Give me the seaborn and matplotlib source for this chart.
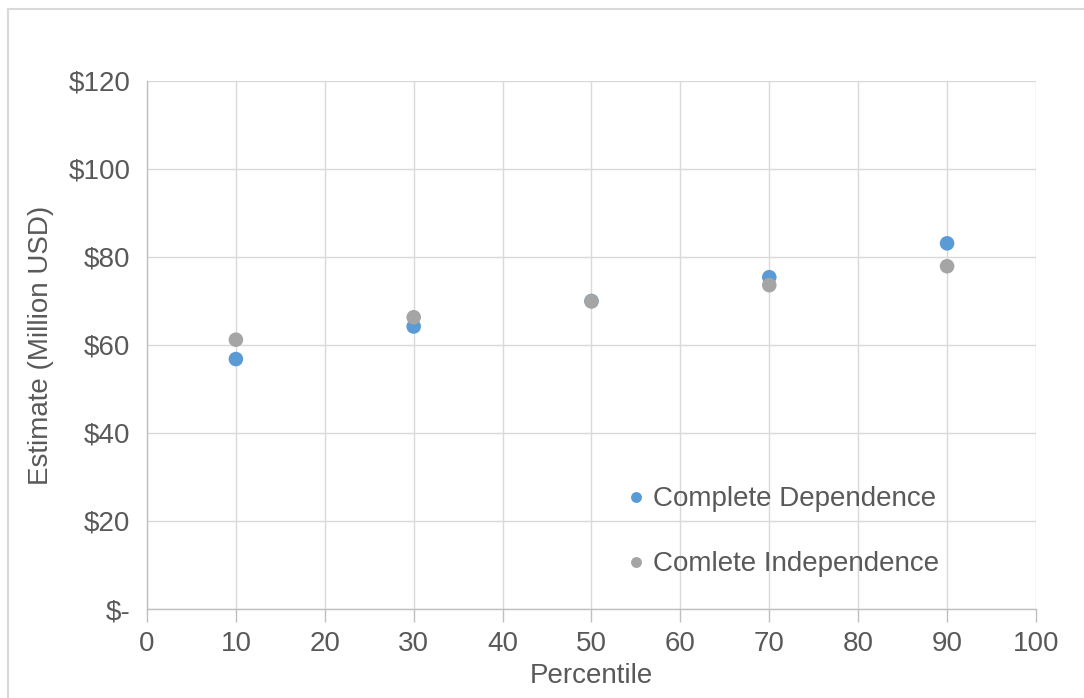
import matplotlib
matplotlib.use("Agg")
import pandas as pd
import seaborn as sns
import matplotlib.pyplot as plt
from matplotlib.ticker import FuncFormatter

# ── Data ────────────────────────────────────────────────────────────────────
percentile = [10, 30, 50, 70, 90]
dependence = [56.8, 64.2, 70.0, 75.4, 83.1]
independence = [61.2, 66.3, 69.9, 73.6, 77.9]
series_names = ["Complete Dependence", "Comlete Independence"]
series_colors = ["#5B9BD5", "#A5A5A5"]

df = pd.DataFrame({
    "Percentile": percentile * 2,
    "Estimate": dependence + independence,
    "Series": [series_names[0]] * len(percentile) + [series_names[1]] * len(percentile),
})

# ── Appearance ──────────────────────────────────────────────────────────────
sns.set_theme(style="whitegrid")
plt.rcParams["font.family"] = ["Liberation Sans", "DejaVu Sans"]
TXT = "#595959"
GRID = "#D9D9D9"
FS = 20

fig = plt.figure(figsize=(10.84, 6.98), dpi=100)
ax = fig.add_axes([0.1356, 0.1275, 0.8201, 0.7565])

sns.scatterplot(data=df, x="Percentile", y="Estimate", hue="Series",
                palette=dict(zip(series_names, series_colors)),
                s=110, linewidth=0, ax=ax, zorder=3)

ax.set_xlim(0, 100)
ax.set_ylim(0, 120)
ax.set_xticks(range(0, 101, 10))
ax.set_yticks(range(0, 121, 20))
ax.yaxis.set_major_formatter(FuncFormatter(lambda v, p: "$-" if v == 0 else f"${v:.0f}"))

ax.grid(True, color=GRID, linewidth=1)
for side in ["top", "right"]:
    ax.spines[side].set_visible(False)
for side in ["left", "bottom"]:
    ax.spines[side].set_visible(True)
    ax.spines[side].set_color("#BFBFBF")
    ax.spines[side].set_linewidth(1)

ax.tick_params(axis="x", colors=TXT, labelsize=FS, length=9, width=1,
               direction="out", pad=7, bottom=True, color="#BFBFBF")
ax.tick_params(axis="y", colors=TXT, labelsize=FS, length=0, pad=12)

ax.set_xlabel("Percentile", fontsize=FS, color=TXT, labelpad=4)
ax.set_ylabel("Estimate (Million USD)", fontsize=FS, color=TXT, labelpad=10)

leg = ax.legend(loc="upper left", bbox_to_anchor=(0.5637, 0.319),
                bbox_transform=fig.transFigure, frameon=False,
                fontsize=FS, labelspacing=1.4, handlelength=1.0,
                handletextpad=0.1, markerscale=0.75, borderaxespad=0)
for t in leg.get_texts():
    t.set_color(TXT)

# outer chart border (left/top)
fig.add_artist(plt.Line2D([0.0075, 0.0075], [0, 0.987], transform=fig.transFigure,
                          color="#D9D9D9", linewidth=1.5))
fig.add_artist(plt.Line2D([0.0075, 1], [0.987, 0.987], transform=fig.transFigure,
                          color="#D9D9D9", linewidth=1.5))

fig.savefig("out.png", dpi=100)
plt.close(fig)
